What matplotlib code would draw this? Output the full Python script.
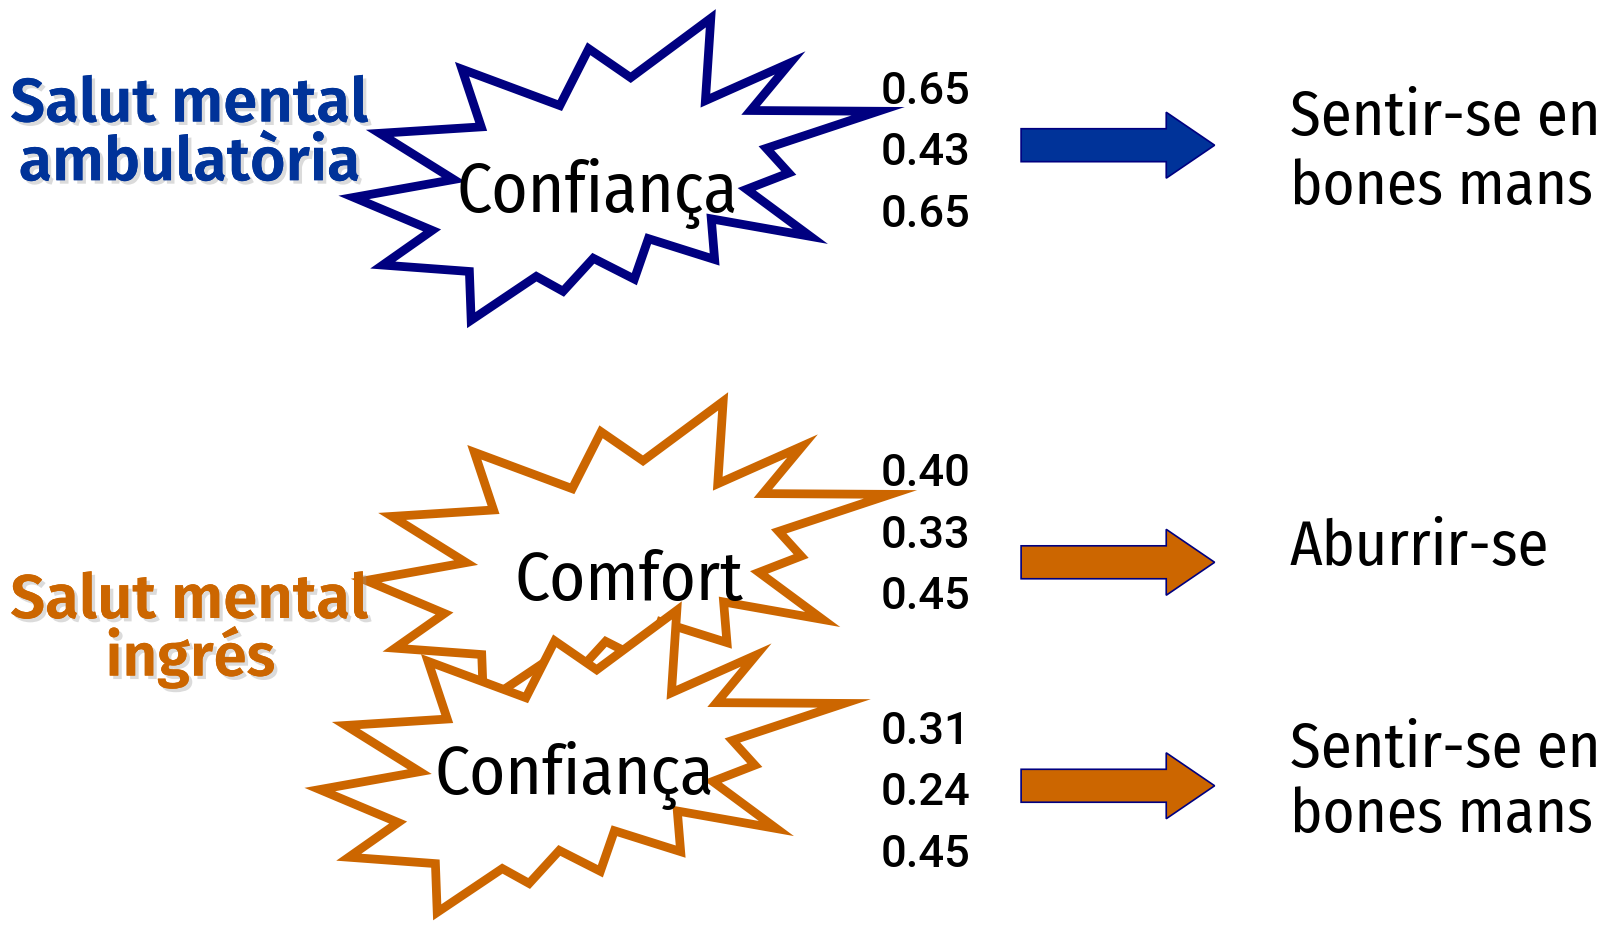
import math
import matplotlib
matplotlib.use('Agg')
import matplotlib.pyplot as plt
from matplotlib.patches import Polygon, FancyArrow
import matplotlib.patheffects as pe

# ---------------- data ----------------
group_titles = [["Salut mental", "ambulatòria"], ["Salut mental", "ingrés"]]
constructs = ["Confiança", "Comfort", "Confiança"]
construct_group = [0, 1, 1]
coefficients = [[0.65, 0.43, 0.65], [0.40, 0.33, 0.45], [0.31, 0.24, 0.45]]
outcomes = [["Sentir-se en", "bones mans"], ["Aburrir-se"], ["Sentir-se en", "bones mans"]]

# ---------------- styles ----------------
TITLE_COLORS = ['#003399', '#CC6600']
STAR_COLORS = ['#000080', '#CC6600', '#CC6600']
ARROW_COLORS = ['#003399', '#CC6600', '#CC6600']
EDGE_NAVY = '#000080'
LABEL_FONT = ['Fira Sans Condensed', 'Liberation Sans', 'DejaVu Sans']
TITLE_FONT = ['Fira Sans', 'Liberation Sans', 'DejaVu Sans']
NUM_FONT = ['Roboto', 'DejaVu Sans']
STAR_LW = 6.3  # points

# ---------------- geometry (in 1568x905 layout units) ----------------
W, H = 1568, 905
STAR_X = [694.8, 685.3, 782.7, 729.2, 878.2, 744.5, 773.1, 725.4, 803.7, 691.0,
          698.6, 629.9, 618.4, 576.4, 547.7, 521.0, 454.1, 456.0, 360.5, 419.8,
          330.0, 440.8, 356.7, 467.5, 442.7, 543.9, 570.6, 612.7]
STAR_Y = [10.0, 97.7, 49.9, 107.3, 104.1, 144.0, 169.5, 183.8, 236.5, 212.5,
          257.2, 231.7, 276.3, 250.8, 287.5, 268.4, 317.8, 263.6, 260.4, 223.7,
          190.2, 174.3, 126.4, 123.2, 61.0, 102.5, 41.9, 75.4]
star_offsets = [(0, 0), (12, 372), (-33, 575)]
label_pos = [(580, 206), (611, 583), (558, 771)]
label_w = [274, 222, 272]
title_pos = [[(184, 118), (184, 175)], [(184, 600), (185, 656)]]
title_w = [[348, 332], [348, 165]]
num_x = 856
num_base = [101, 472, 722]
num_step = 59.7
arrow_y = [141, 546, 763]
out_x = 1253
out_base = [[131, 198], [549], [745, 808]]
out_w = {"Sentir-se en": 302, "bones mans": 294, "Aburrir-se": 252}

fig = plt.figure(figsize=(16.14, 9.32), dpi=100)
ax = fig.add_axes([0, 0, 1, 1])
ax.set_xlim(0, W)
ax.set_ylim(H, 0)
ax.axis('off')
px_per_unit = 1614 / W
renderer = fig.canvas.get_renderer()


def fit(t, target_w):
    bb = t.get_window_extent(renderer=renderer)
    t.set_fontsize(t.get_fontsize() * target_w * px_per_unit / bb.width)


def miter_compensate(xs, ys, half_w, k=0.8):
    """Pull convex tips inward so the mitred outer stroke ends near the traced tip."""
    n = len(xs)
    area = sum(xs[i] * ys[(i + 1) % n] - xs[(i + 1) % n] * ys[i] for i in range(n))
    sgn = 1 if area > 0 else -1
    out = []
    for i in range(n):
        x0, y0 = xs[i - 1], ys[i - 1]
        x1, y1 = xs[i], ys[i]
        x2, y2 = xs[(i + 1) % n], ys[(i + 1) % n]
        ax1, ay1 = x1 - x0, y1 - y0
        ax2, ay2 = x2 - x1, y2 - y1
        cross = ax1 * ay2 - ay1 * ax2
        v1x, v1y = x0 - x1, y0 - y1
        v2x, v2y = x2 - x1, y2 - y1
        l1 = math.hypot(v1x, v1y); l2 = math.hypot(v2x, v2y)
        v1x, v1y, v2x, v2y = v1x / l1, v1y / l1, v2x / l2, v2y / l2
        if cross * sgn > 0:  # convex tip
            dot = max(-1.0, min(1.0, v1x * v2x + v1y * v2y))
            theta = math.acos(dot)
            bx, by = v1x + v2x, v1y + v2y
            bl = math.hypot(bx, by)
            d = half_w / math.sin(theta / 2) * k
            out.append((x1 + bx / bl * d, y1 + by / bl * d))
        else:
            out.append((x1, y1))
    return out


half_w_units = STAR_LW * 100 / 72 / px_per_unit / 2

# starbursts
for i, (dx, dy) in enumerate(star_offsets):
    xs = [x + dx for x in STAR_X]
    ys = [y + dy for y in STAR_Y]
    pts = miter_compensate(xs, ys, half_w_units)
    poly = Polygon(pts, closed=True, facecolor='white', edgecolor=STAR_COLORS[i],
                   linewidth=STAR_LW, joinstyle='miter', zorder=2 + i)
    ax.add_patch(poly)

# group titles with soft shadow
shadow = [pe.withSimplePatchShadow(offset=(2.5, -2.5), shadow_rgbFace=(0.6, 0.6, 0.6), alpha=0.35),
          pe.Normal()]
for g, lines in enumerate(group_titles):
    for j, line in enumerate(lines):
        x, y = title_pos[g][j]
        t = ax.text(x, y, line, ha='center', va='baseline', fontsize=40, fontweight='semibold',
                    family=TITLE_FONT, color=TITLE_COLORS[g], zorder=10,
                    path_effects=shadow)
        fit(t, title_w[g][j])

# construct labels
for i, lab in enumerate(constructs):
    x, y = label_pos[i]
    t = ax.text(x, y, lab, ha='center', va='baseline', fontsize=44,
                family=LABEL_FONT, fontstretch='condensed',
                color='black', zorder=10)
    fit(t, label_w[i])

# coefficients
for i, vals in enumerate(coefficients):
    for k, v in enumerate(vals):
        t = ax.text(num_x, num_base[i] + k * num_step, f"{v:.2f}", ha='left', va='baseline',
                    fontsize=30, family=NUM_FONT, fontweight='medium', color='black', zorder=10)
        fit(t, 87)

# arrows
for i, y in enumerate(arrow_y):
    arr = FancyArrow(992, y, 188, 0, width=32, head_width=64, head_length=47,
                     length_includes_head=True, facecolor=ARROW_COLORS[i],
                     edgecolor=EDGE_NAVY, linewidth=1.2, zorder=6)
    ax.add_patch(arr)

# outcomes
for i, lines in enumerate(outcomes):
    for j, line in enumerate(lines):
        t = ax.text(out_x, out_base[i][j], line, ha='left', va='baseline', fontsize=40,
                    family=LABEL_FONT, fontstretch='condensed',
                    color='black', zorder=10)
        fit(t, out_w[line])

fig.savefig('out.png', dpi=100, facecolor='white')
